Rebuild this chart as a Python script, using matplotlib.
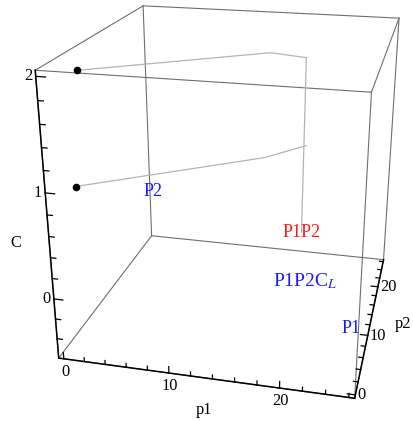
import numpy as np
import matplotlib
matplotlib.use("Agg")
import matplotlib.pyplot as plt
from mpl_toolkits.mplot3d import proj3d

plt.rcParams['font.family'] = ['Liberation Serif', 'DejaVu Serif']
plt.rcParams['mathtext.fontset'] = 'stix'

# Plot ranges of the three axes
p1_range = (-0.5, 26.5)
p2_range = (-0.5, 26.5)
c_range = (-0.6, 2.05)

# Tick values
p_major = [0, 10, 20]
p_minor = [2, 4, 6, 8, 12, 14, 16, 18, 22, 24, 26]
c_major = [0, 1, 2]
c_minor = [-0.4, -0.2, 0.2, 0.4, 0.6, 0.8, 1.2, 1.4, 1.6, 1.8]

# Path starting at C = 2
upper_p1 = [2.0, 15.6, 18.5, 18.5]
upper_p2 = [2.0, 15.6, 18.5, 18.5]
upper_c = [2.0, 1.9, 1.8, 0.0]

# Path starting at C = 1
lower_p1 = [1.45, 15.2, 18.7]
lower_p2 = [1.45, 15.2, 18.7]
lower_c = [1.0, 0.89, 0.92]

# Starting points
start_p1 = [2.0, 1.45]
start_p2 = [2.0, 1.45]
start_c = [2.0, 1.0]

# Region labels
label_text = ["P2", "P1P2", "P1P2C$_{L}$", "P1"]
label_p1 = [6.7, 18.5, 19.0, 25.0]
label_p2 = [6.7, 18.5, 18.5, 9.2]
label_c = [0.80, 0.0, -0.55, -0.5]
label_color = ["#1a1aff", "#ff1a1a", "#1a1aff", "#1a1aff"]
label_size = [13, 13, 14, 13]

fig = plt.figure(figsize=(4.13, 4.21), dpi=100)
ax = fig.add_axes([-0.0155, -0.0057, 1.1477, 1.1259], projection='3d')
ax.set_proj_type('persp', focal_length=0.367)
ax.view_init(elev=21.7, azim=-76.6, roll=0)
ax.set_box_aspect((1, 1, 1))
ax.set_xlim(*p1_range)
ax.set_ylim(*p2_range)
ax.set_zlim(*c_range)
ax.set_axis_off()

x0, x1 = p1_range
y0, y1 = p2_range
z0, z1 = c_range

proj = ax.get_proj()


def label3d(x, y, z, s, **kw):
    """Place a flat text label at the projected position of a 3D point."""
    xs, ys, _ = proj3d.proj_transform(x, y, z, proj)
    return ax.text2D(xs, ys, s, transform=ax.transData, **kw)


# bounding box
box_col = "#6e6e6e"
for (ya, za) in [(y0, z0), (y1, z0), (y0, z1), (y1, z1)]:
    ax.plot([x0, x1], [ya, ya], [za, za], color=box_col, lw=0.8)
for (xa, za) in [(x0, z0), (x1, z0), (x0, z1), (x1, z1)]:
    ax.plot([xa, xa], [y0, y1], [za, za], color=box_col, lw=0.8)
for (xa, ya) in [(x0, y0), (x1, y0), (x0, y1), (x1, y1)]:
    ax.plot([xa, xa], [ya, ya], [z0, z1], color=box_col, lw=0.8)

# axis lines
ax.plot([x0, x0], [y0, y0], [z0, z1], color="black", lw=1.1)
ax.plot([x0, x1], [y0, y0], [z0, z0], color="black", lw=1.1)
ax.plot([x1, x1], [y0, y1], [z0, z0], color="black", lw=1.1)

tick_font = 11.8
# C axis ticks and labels
for c in c_major + c_minor:
    ln = 0.85 if c in c_major else 0.5
    ax.plot([x0, x0 + ln], [y0, y0], [c, c], color="black", lw=0.9)
for c in c_major:
    label3d(x0 - 0.3, y0, c, f"{c}", ha="right", va="center", fontsize=tick_font)

# p1 axis ticks and labels
for p in p_major + p_minor:
    ln = 0.065 if p in p_major else 0.04
    ax.plot([p, p], [y0, y0], [z0, z0 + ln], color="black", lw=0.9)
for p in p_major:
    label3d(p + 0.1, y0, z0 - 0.05, f"{p}", ha="center", va="top", fontsize=tick_font)

# p2 axis ticks and labels
for p in p_major + p_minor:
    ln = 0.7 if p in p_major else 0.4
    ax.plot([x1, x1 - ln], [p, p], [z0, z0], color="black", lw=0.9)
for p in p_major:
    label3d(x1 + 0.2, p, z0, f"{p}", ha="left", va="center", fontsize=tick_font)

# axis titles
label3d(x0 - 3.2, y0, 0.5, "C", ha="center", va="center", fontsize=tick_font)
label3d(13.2, y0, z0 - 0.33, "p1", ha="center", va="center", fontsize=tick_font)
label3d(x1 + 3.1, 12.9, z0, "p2", ha="center", va="center", fontsize=tick_font)

# paths
path_col = "#b4b4b4"
ax.plot(upper_p1, upper_p2, upper_c, color=path_col, lw=0.9)
ax.plot(lower_p1, lower_p2, lower_c, color=path_col, lw=0.9)
ax.scatter(start_p1, start_p2, start_c, color="black", s=20, depthshade=False)

for s, px, py, pc, col, fs in zip(label_text, label_p1, label_p2, label_c,
                                  label_color, label_size):
    label3d(px, py, pc, s, ha="center", va="center", color=col, fontsize=fs)

fig.savefig("out.png", dpi=100)
